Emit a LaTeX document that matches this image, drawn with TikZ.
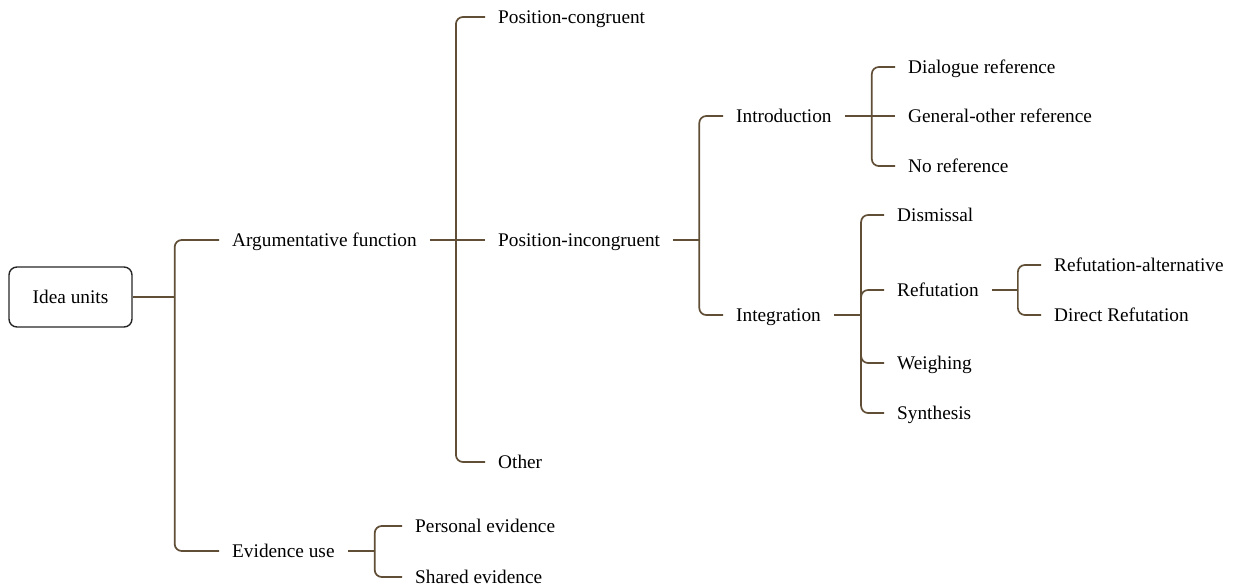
\documentclass[tikz,border=0pt]{standalone}
\usepackage{fontspec}
\setmainfont{Liberation Serif}
\newfontfamily\treefont{Liberation Serif}
\usetikzlibrary{calc}
\definecolor{branchbrown}{RGB}{96,78,54}

\begin{document}
\begin{tikzpicture}[x=1pt,y=-1pt,
    item/.style={anchor=west, inner xsep=13pt, inner ysep=2pt, text height=13pt, text depth=0pt, font=\treefont\fontsize{19.3}{23}\selectfont},
    rootbox/.style={draw=black!85, line width=1.4pt, rounded corners=8pt, minimum width=123pt, minimum height=60pt, text height=13pt, text depth=0pt, font=\treefont\fontsize{19.3}{23}\selectfont},
    branch/.style={draw=branchbrown, line width=1.7pt, rounded corners=7pt}]
    \useasboundingbox (0,0) rectangle (1237,587);
    % root
    \node[rootbox] (root) at (70.5,297) {Idea units};
    % first level
    \node[item] (arg) at (219,240) {Argumentative function};
    \node[item] (evid) at (219,551) {Evidence use};
    % argumentative function
    \node[item] (poscong) at (485,17) {Position-congruent};
    \node[item] (posinc) at (485,240) {Position-incongruent};
    \node[item] (other) at (485,462) {Other};
    \node[item] (intro) at (723,116) {Introduction};
    \node[item] (integ) at (723,315) {Integration};
    \node[item] (dialog) at (895,67) {Dialogue reference};
    \node[item] (genother) at (895,116) {General-other reference};
    \node[item] (noref) at (895,166) {No reference};
    \node[item] (dismiss) at (884,215) {Dismissal};
    \node[item] (refut) at (884,290) {Refutation};
    \node[item] (weigh) at (884,363) {Weighing};
    \node[item] (synth) at (884,413) {Synthesis};
    \node[item] (refalt) at (1041,265) {Refutation-alternative};
    \node[item] (direct) at (1041,315) {Direct Refutation};
    % evidence use
    \node[item] (personal) at (402,526) {Personal evidence};
    \node[item] (shared) at (402,577) {Shared evidence};

    % bars
    \coordinate (rootbar) at ([xshift=42pt]root.east);
    \coordinate (argbar) at ([xshift=26pt]arg.east);
    \coordinate (posincbar) at ([xshift=26pt]posinc.east);
    \coordinate (introbar) at ([xshift=27pt]intro.east);
    \coordinate (integbar) at ([xshift=27pt]integ.east);
    \coordinate (refutbar) at ([xshift=26pt]refut.east);
    \coordinate (evidbar) at ([xshift=27pt]evid.east);

    \draw[branch] (root.east) -- (rootbar);
    \foreach \c in {arg,evid}
      \draw[branch] (rootbar) |- (\c.west);

    \draw[branch] (arg.east) -- (posinc.west);
    \foreach \c in {poscong,other}
      \draw[branch] (argbar) |- (\c.west);

    \draw[branch] (posinc.east) -- (posincbar);
    \foreach \c in {intro,integ}
      \draw[branch] (posincbar) |- (\c.west);

    \draw[branch] (intro.east) -- (genother.west);
    \foreach \c in {dialog,noref}
      \draw[branch] (introbar) |- (\c.west);

    \draw[branch] (integ.east) -- (integbar);
    \foreach \c in {dismiss,refut,weigh,synth}
      \draw[branch] (integbar) |- (\c.west);

    \draw[branch] (refut.east) -- (refutbar);
    \foreach \c in {refalt,direct}
      \draw[branch] (refutbar) |- (\c.west);

    \draw[branch] (evid.east) -- (evidbar);
    \foreach \c in {personal,shared}
      \draw[branch] (evidbar) |- (\c.west);
\end{tikzpicture}
\end{document}
